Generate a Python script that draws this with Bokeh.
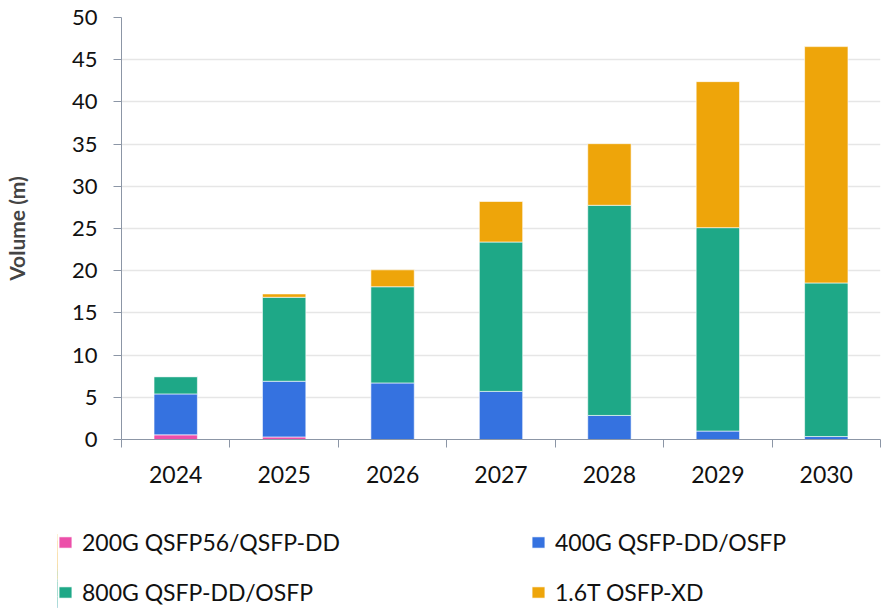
from bokeh.plotting import figure
from bokeh.models import ColumnDataSource, Range1d, FixedTicker, Legend, LegendItem, Spacer
from bokeh.layouts import column, row
from bokeh.embed import file_html
from bokeh.resources import INLINE

years = ["2024", "2025", "2026", "2027", "2028", "2029", "2030"]
s200 = [0.55, 0.3, 0.0, 0.0, 0.0, 0.0, 0.0]
s400 = [4.85, 6.6, 6.7, 5.7, 2.85, 1.0, 0.35]
s800 = [2.05, 9.95, 11.4, 17.7, 24.9, 24.1, 18.2]
s16t = [0.0, 0.4, 2.0, 4.8, 7.3, 17.3, 28.0]
series = ["s200", "s400", "s800", "s16t"]
labels = ["200G QSFP56/QSFP-DD", "400G QSFP-DD/OSFP", "800G QSFP-DD/OSFP", "1.6T OSFP-XD"]
colors = ["#EC4FA9", "#3572E0", "#1EA887", "#EEA50A"]
yticks = list(range(0, 51, 5))

FONT = "Lato"
x = list(range(len(years)))
src = ColumnDataSource(dict(x=x, s200=s200, s400=s400, s800=s800, s16t=s16t))

p = figure(width=881, height=528, output_backend="svg", toolbar_location=None,
           x_range=Range1d(-0.5, len(years) - 0.5), y_range=Range1d(0, 50),
           min_border_left=121, min_border_right=1, min_border_top=17, min_border_bottom=89)
p.outline_line_color = None
p.background_fill_color = "white"

p.vbar_stack(series, x="x", width=0.4, source=src, color=colors,
             line_color="white", line_width=0.6)

# axes
p.yaxis.ticker = FixedTicker(ticks=yticks)
p.yaxis.axis_label = "Volume (m)"
p.yaxis.axis_label_text_font = FONT
p.yaxis.axis_label_text_font_style = "bold"
p.yaxis.axis_label_text_font_size = "21px"
p.yaxis.axis_label_standoff = 40
p.yaxis.major_label_text_font = FONT
p.yaxis.major_label_text_font_size = "22px"
p.yaxis.major_label_text_color = "#111111"
p.yaxis.major_label_standoff = 16
p.yaxis.major_tick_out = 8
p.yaxis.major_tick_in = 0
p.yaxis.minor_tick_out = 0
p.yaxis.minor_tick_in = 0
p.yaxis.axis_line_color = "#8C96A6"
p.yaxis.major_tick_line_color = "#8C96A6"

p.xaxis.ticker = FixedTicker(ticks=x, minor_ticks=[i - 0.5 for i in range(len(years) + 1)])
p.xaxis.major_label_overrides = {i: y for i, y in enumerate(years)}
p.xaxis.major_label_text_font = FONT
p.xaxis.major_label_text_font_size = "23px"
p.xaxis.major_label_text_color = "#111111"
p.xaxis.major_label_standoff = 18
p.xaxis.major_tick_out = 0
p.xaxis.major_tick_in = 0
p.xaxis.minor_tick_out = 8
p.xaxis.minor_tick_in = 0
p.xaxis.minor_tick_line_color = "#8C96A6"
p.xaxis.axis_line_color = "#8C96A6"

p.xgrid.grid_line_color = None
p.ygrid.ticker = FixedTicker(ticks=yticks)
p.ygrid.grid_line_color = "#E6E6E6"
p.ygrid.grid_line_width = 1.5

# legend strip: same series drawn in a figure whose range hides the bars,
# so that only the legend shows
lf = figure(width=824, height=80, output_backend="svg", toolbar_location=None,
            x_range=Range1d(100, 101), y_range=Range1d(0, 50),
            x_axis_type=None, y_axis_type=None,
            min_border_left=0, min_border_right=0, min_border_top=0, min_border_bottom=0)
lf.outline_line_color = None
lf.grid.visible = False
lrs = lf.vbar_stack(series, x="x", width=0.4, source=src, color=colors,
                    line_color="white", line_width=0.6)

order = [0, 2, 1, 3]
items = [LegendItem(label=labels[i], renderers=[lrs[i]]) for i in order]
legend = Legend(items=items, ncols=2, location="top_left",
                label_text_font=FONT, label_text_font_size="23px",
                label_text_color="#111111",
                glyph_width=16, glyph_height=14, label_width=426, label_height=26,
                label_standoff=9, spacing=22, padding=0, margin=0,
                border_line_color=None, background_fill_alpha=0)
lf.add_layout(legend, "center")

layout = column(p, row(Spacer(width=57, height=80), lf))

open("out.html", "w").write(file_html(layout, INLINE))
